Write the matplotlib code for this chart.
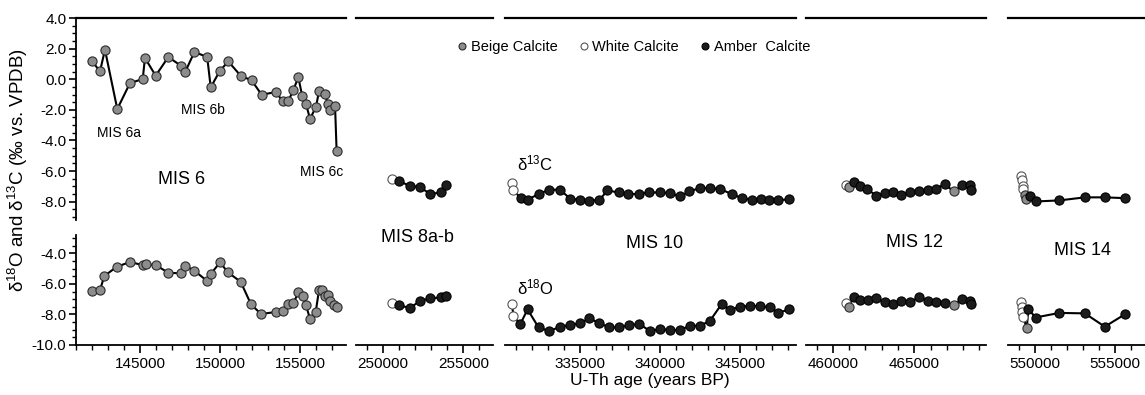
import matplotlib.pyplot as plt
from matplotlib.lines import Line2D
from matplotlib.ticker import MultipleLocator, FormatStrFormatter

plt.rcParams['font.family'] = ['Liberation Sans', 'DejaVu Sans']
plt.rcParams['mathtext.fontset'] = 'custom'
plt.rcParams['mathtext.rm'] = 'Liberation Sans'
plt.rcParams['mathtext.default'] = 'regular'
plt.rcParams['axes.unicode_minus'] = False

# ---- data (ages in years BP, isotopes in permil) ----
# type codes: B = beige, W = white, A = amber calcite
mis6_age_c = [141980, 142500, 142810, 143580, 144375, 145170, 145310, 145980, 146770, 147560,
              147810, 148400, 149200, 149420, 150000, 150520, 151290, 151980, 152600, 153500,
              153920, 154270, 154580, 154900, 155140, 155375, 155625, 156000, 156190, 156560,
              156730, 156880, 157190, 157290]
mis6_d13c = [1.21, 0.51, 1.93, -1.95, -0.25, 0.01, 1.39, 0.23, 1.45, 0.88,
             0.44, 1.78, 1.45, -0.53, 0.56, 1.16, 0.23, -0.08, -1.01, -0.84,
             -1.45, -1.45, -0.69, 0.12, -1.12, -1.62, -2.58, -1.82, -0.75, -0.95,
             -1.62, -2.0, -1.73, -4.72]
mis6_type_c = "B" * 34
mis6_age_o = [141980, 142500, 142770, 143540, 144375, 145170, 145350, 145980, 146770, 147560,
              147810, 148400, 149170, 149420, 150000, 150500, 151290, 151940, 152560, 153500,
              153920, 154270, 154580, 154900, 155170, 155375, 155625, 155980, 156190, 156400,
              156560, 156770, 156880, 157150, 157290]
mis6_d18o = [-6.45, -6.40, -5.49, -4.88, -4.57, -4.77, -4.72, -4.77, -5.27, -5.31,
             -4.81, -5.14, -5.79, -5.36, -4.59, -5.25, -5.86, -7.34, -7.97, -7.84,
             -7.78, -7.32, -7.28, -6.55, -6.79, -7.41, -8.28, -7.84, -6.40, -6.40,
             -6.77, -6.70, -7.10, -7.41, -7.49]
mis6_type_o = "B" * 35

mis8_age = [250540, 251000, 251670, 252280, 252940, 253620, 253890]
mis8_d13c = [-6.52, -6.68, -6.96, -7.05, -7.50, -7.40, -6.90]
mis8_d18o = [-7.27, -7.38, -7.60, -7.10, -6.95, -6.88, -6.80]
mis8_type = "WAAAAAA"

mis10_age_c = [330730, 330830, 331290, 331710, 332400, 333080, 333750, 334375, 335000, 335580,
               336210, 336710, 337400, 338020, 338650, 339330, 340000, 340625, 341250, 341830,
               342500, 343125, 343750, 344480, 345100, 345730, 346290, 346830, 347400, 348080]
mis10_d13c = [-6.78, -7.27, -7.77, -7.88, -7.50, -7.22, -7.22, -7.81, -7.88, -7.94,
              -7.88, -7.27, -7.40, -7.50, -7.50, -7.40, -7.40, -7.44, -7.66, -7.33,
              -7.11, -7.11, -7.18, -7.50, -7.77, -7.88, -7.83, -7.88, -7.90, -7.85]
mis10_age_o = [330730, 330830, 331250, 331710, 332400, 333080, 333750, 334375, 335000, 335580,
               336210, 336830, 337460, 338080, 338710, 339375, 340000, 340625, 341250, 341875,
               342500, 343125, 343850, 344375, 345000, 345625, 346250, 346875, 347400, 348080]
mis10_d18o = [-7.32, -8.08, -8.65, -7.67, -8.85, -9.09, -8.80, -8.69, -8.58, -8.25,
              -8.58, -8.85, -8.85, -8.69, -8.63, -9.09, -8.95, -9.02, -9.02, -8.74,
              -8.74, -8.41, -7.32, -7.71, -7.49, -7.45, -7.45, -7.54, -7.89, -7.67]
mis10_type = "WW" + "A" * 28

mis12_age_c = [460780, 460990, 461280, 461690, 462100, 462670, 463180, 463690, 464200, 464760,
               465290, 465840, 466350, 466860, 467410, 467940, 468390, 468490]
mis12_d13c = [-6.90, -7.05, -6.72, -6.96, -7.18, -7.61, -7.44, -7.40, -7.55, -7.37,
              -7.29, -7.27, -7.16, -6.85, -7.33, -6.94, -6.90, -7.27]
mis12_age_o = [460780, 460990, 461280, 461690, 462160, 462670, 463180, 463690, 464200, 464760,
               465290, 465840, 466350, 466900, 467410, 467940, 468390, 468490]
mis12_d18o = [-7.27, -7.49, -6.84, -7.06, -7.06, -6.95, -7.21, -7.34, -7.10, -7.17,
              -6.88, -7.10, -7.17, -7.27, -7.38, -6.99, -7.15, -7.32]
mis12_type = "WBAAAAAAAAAAAABAAA"

mis14_age_c = [549100, 549160, 549220, 549260, 549380, 549440, 549650, 550030, 551520, 553125,
               554375, 555625]
mis14_d13c = [-6.31, -6.61, -6.95, -7.18, -7.55, -7.83, -7.66, -7.99, -7.92, -7.72, -7.72, -7.77]
mis14_type_c = "WWWWBBAAAAAA"
mis14_age_o = [549100, 549160, 549200, 549250, 549480, 549580, 550030, 551520, 553125, 554375,
               555625]
mis14_d18o = [-7.17, -7.49, -7.82, -8.19, -8.87, -7.65, -8.20, -7.90, -7.93, -8.80, -8.00]
mis14_type_o = "WWWWBAAAAAA"

STYLE = {
    'B': dict(mfc='#8c8c8c', mec='#2b2b2b'),
    'W': dict(mfc='white', mec='#555555'),
    'A': dict(mfc='#1c1c1c', mec='black'),
}

panels = [
    # (px left, px right, xlim, carbon series, oxygen series)
    (76, 346, (141000, 157875), (mis6_age_c, mis6_d13c, mis6_type_c), (mis6_age_o, mis6_d18o, mis6_type_o)),
    (356, 493, (248300, 256850), (mis8_age, mis8_d13c, mis8_type), (mis8_age, mis8_d18o, mis8_type)),
    (505, 796, (330300, 348500), (mis10_age_c, mis10_d13c, mis10_type), (mis10_age_o, mis10_d18o, mis10_type)),
    (806, 986, (458350, 469400), (mis12_age_c, mis12_d13c, mis12_type), (mis12_age_o, mis12_d18o, mis12_type)),
    (1008, 1145, (548300, 556900), (mis14_age_c, mis14_d13c, mis14_type_c), (mis14_age_o, mis14_d18o, mis14_type_o)),
]

W, H = 1145, 395
fig = plt.figure(figsize=(W / 100, H / 100), dpi=100)


def px(x, y):
    return x / W, 1 - y / H


def draw_series(ax, ages, vals, types):
    ax.plot(ages, vals, color='black', lw=1.5, zorder=2, clip_on=False)
    for a, v, t in zip(ages, vals, types):
        ax.plot(a, v, 'o', ms=6.6, mew=0.8, zorder=3, clip_on=False, **STYLE[t])


for i, (x0, x1, xlim, carb, oxy) in enumerate(panels):
    top = fig.add_axes([x0 / W, (H - 220) / H, (x1 - x0) / W, 202 / H])
    bot = fig.add_axes([x0 / W, (H - 345) / H, (x1 - x0) / W, 110 / H])

    top.set_xlim(xlim)
    top.set_ylim(-9.2, 4.0)
    bot.set_xlim(xlim)
    bot.set_ylim(-10.0, -2.8)

    draw_series(top, *carb)
    draw_series(bot, *oxy)

    for s in ['right', 'bottom']:
        top.spines[s].set_visible(False)
    for s in ['right', 'top']:
        bot.spines[s].set_visible(False)
    top.spines['top'].set_linewidth(1.6)
    bot.spines['bottom'].set_linewidth(1.3)
    top.set_xticks([])

    bot.xaxis.set_major_locator(MultipleLocator(5000))
    bot.xaxis.set_minor_locator(MultipleLocator(1000))
    bot.xaxis.set_major_formatter(FormatStrFormatter('%d'))
    bot.tick_params(axis='x', which='major', length=6, width=1.2, direction='out', labelsize=11, pad=3)
    bot.tick_params(axis='x', which='minor', length=3.5, width=1.0, direction='out')

    if i == 0:
        for ax, step in [(top, 2.0), (bot, 2.0)]:
            ax.spines['left'].set_linewidth(1.3)
            ax.yaxis.set_major_locator(MultipleLocator(step))
            ax.yaxis.set_minor_locator(MultipleLocator(0.5))
            ax.yaxis.set_major_formatter(FormatStrFormatter('%.1f'))
            ax.tick_params(axis='y', which='major', length=5, width=1.2, direction='out', labelsize=11, pad=2)
            ax.tick_params(axis='y', which='minor', length=3, width=1.0, direction='out')
    else:
        top.spines['left'].set_visible(False)
        bot.spines['left'].set_visible(False)
        top.set_yticks([])
        bot.set_yticks([])

# ---- annotations ----
notes = [
    ("MIS 6a", 97, 133, 10, 'left'),
    ("MIS 6b", 181, 110, 10, 'left'),
    ("MIS 6c", 300, 172, 10, 'left'),
    ("MIS 6", 182, 180, 13, 'center'),
    ("MIS 8a-b", 417, 237, 13, 'center'),
    ("MIS 10", 655, 244, 13, 'center'),
    ("MIS 12", 915, 243, 13, 'center'),
    ("MIS 14", 1082, 250, 13, 'center'),
    (r"$\delta^{13}$C", 517, 163, 12, 'left'),
    (r"$\delta^{18}$O", 517, 287, 12, 'left'),
]
for txt, x, y, fs, ha in notes:
    fig.text(*px(x, y), txt, fontsize=fs, ha=ha, va='center')

fig.text(*px(650, 381), "U-Th age (years BP)", fontsize=12.5, ha='center', va='center')
fig.text(*px(18, 170), r"$\delta^{18}$O and $\delta^{13}$C (‰ vs. VPDB)", fontsize=13.5,
         ha='center', va='center', rotation=90)

handles = [Line2D([], [], ls='none', marker='o', ms=5, mew=0.8, **STYLE[k]) for k in "BWA"]
fig.legend(handles, ["Beige Calcite", "White Calcite", "Amber  Calcite"], loc='center',
           bbox_to_anchor=px(634, 47), ncol=3, frameon=False, fontsize=10.5,
           handlelength=0.6, handletextpad=0.3, columnspacing=1.5)

fig.savefig('out.png', dpi=100)
